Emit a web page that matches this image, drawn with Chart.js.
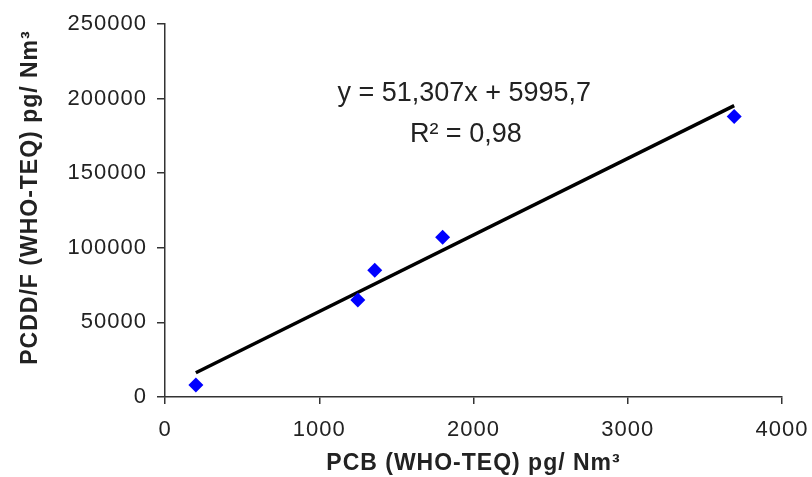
<!DOCTYPE html>
<html>
<head>
<meta charset="utf-8">
<script src="https://cdn.jsdelivr.net/npm/chart.js@4"></script>
<style>
  html, body { margin: 0; padding: 0; background: #fff; }
  #wrap { width: 812px; height: 477px; }
</style>
</head>
<body>
<div id="wrap"><canvas id="chart" width="812" height="477"></canvas></div>
<script>
// measured samples
const pcbValues = [200, 1250, 1360, 1800, 3690];
const pcddValues = [8000, 65000, 85000, 107000, 188000];

// axis ticks
const xTicks = [0, 1000, 2000, 3000, 4000];
const yTicks = [0, 50000, 100000, 150000, 200000, 250000];

// linear fit as reported
const slope = 51.307;
const intercept = 5995.7;
const equationText = 'y = 51,307x + 5995,7';
const r2Text = 'R² = 0,98';

const xTitle = 'PCB (WHO-TEQ) pg/ Nm³';
const yTitle = 'PCDD/F (WHO-TEQ) pg/ Nm³';

const FONT = '"Liberation Sans", Arial, Helvetica, sans-serif';
const TEXT = '#222';
const AXIS = '#333';

const points = pcbValues.map((v, i) => ({ x: v, y: pcddValues[i] }));
const xMin = Math.min(...pcbValues);
const xMax = Math.max(...pcbValues);
const fitLine = [
    { x: xMin, y: slope * xMin + intercept },
    { x: xMax, y: slope * xMax + intercept }
];

// slightly wider glyphs for axis text
const axisSpacing = {
    id: 'axisSpacing',
    beforeDraw(chart) { chart.ctx.letterSpacing = '1px'; },
    beforeDatasetsDraw(chart) { chart.ctx.letterSpacing = '0px'; }
};

// regression equation, R² and the rotated y title
const fitLabel = {
    id: 'fitLabel',
    afterDatasetsDraw(chart) {
        const { ctx, chartArea, scales: { x, y } } = chart;
        ctx.save();
        ctx.fillStyle = TEXT;
        ctx.font = '27px ' + FONT;
        ctx.textAlign = 'center';
        ctx.textBaseline = 'middle';
        ctx.fillText(equationText, x.getPixelForValue(1940), y.getPixelForValue(203500));
        ctx.fillText(r2Text, x.getPixelForValue(1950), y.getPixelForValue(176000));

        ctx.letterSpacing = '1px';
        ctx.font = 'bold 23px ' + FONT;
        ctx.translate(31, (chartArea.top + chartArea.bottom) / 2 - 13);
        ctx.rotate(-Math.PI / 2);
        ctx.fillText(yTitle, 0, 0);
        ctx.restore();
    }
};

const ctx = document.getElementById('chart').getContext('2d');
new Chart(ctx, {
    type: 'scatter',
    data: {
        datasets: [{
            type: 'scatter',
            data: points,
            pointStyle: 'rectRot',
            pointRadius: 7.5,
            backgroundColor: '#0000ff',
            borderColor: '#0000ff',
            borderWidth: 0,
            order: 0
        }, {
            type: 'line',
            data: fitLine,
            borderColor: '#000',
            borderWidth: 3.5,
            pointRadius: 0,
            fill: false,
            order: 1
        }]
    },
    options: {
        responsive: false,
        animation: false,
        layout: { padding: { top: 24, right: 30, bottom: 0, left: 0 } },
        plugins: {
            legend: { display: false },
            tooltip: { enabled: false }
        },
        scales: {
            x: {
                type: 'linear',
                min: 0,
                max: 4000,
                afterFit: s => {
                    s.height = 80;
                    s.paddingLeft = 0;
                    s.paddingRight = 0;
                },
                afterBuildTicks: s => { s.ticks = xTicks.map(v => ({ value: v })); },
                ticks: {
                    color: TEXT,
                    font: { family: FONT, size: 22 },
                    padding: 13,
                    maxRotation: 0,
                    callback: v => String(v)
                },
                grid: { drawOnChartArea: false, drawTicks: true, tickLength: 7, color: AXIS, lineWidth: 1.5 },
                border: { color: AXIS, width: 1.5 },
                title: {
                    display: true,
                    text: xTitle,
                    color: TEXT,
                    font: { family: FONT, size: 23, weight: 'bold' },
                    padding: { top: 0, bottom: 0 }
                }
            },
            y: {
                type: 'linear',
                min: 0,
                max: 250000,
                afterFit: s => { s.width = 165; },
                afterBuildTicks: s => { s.ticks = yTicks.map(v => ({ value: v })); },
                ticks: {
                    color: TEXT,
                    font: { family: FONT, size: 22 },
                    padding: 10,
                    callback: v => String(v)
                },
                grid: { drawOnChartArea: false, drawTicks: true, tickLength: 8, color: AXIS, lineWidth: 1.5 },
                border: { color: AXIS, width: 1.5 },
                title: { display: false }
            }
        }
    },
    plugins: [axisSpacing, fitLabel]
});
</script>
</body>
</html>
